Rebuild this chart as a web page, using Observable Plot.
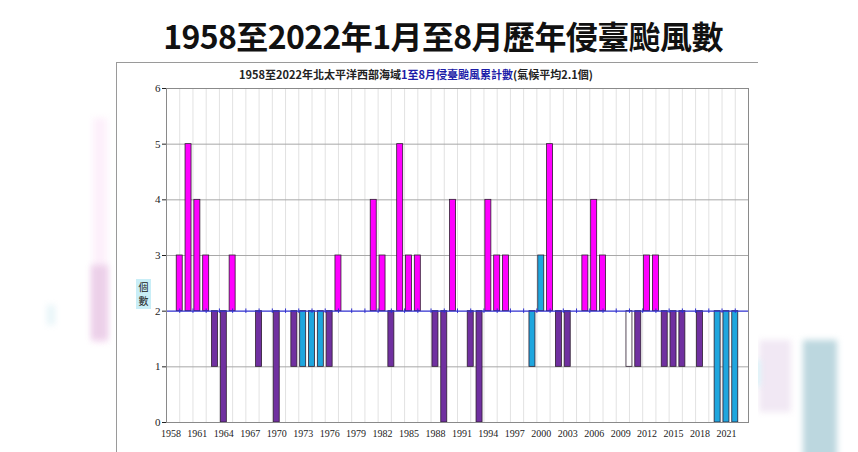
<!DOCTYPE html>
<html>
<head>
<meta charset="utf-8">
<script src="https://cdn.jsdelivr.net/npm/d3@7"></script>
<script src="https://cdn.jsdelivr.net/npm/@observablehq/plot@0.6"></script>
<style>
  html, body { margin: 0; padding: 0; background: #fff; }
  #wrap { position: relative; width: 858px; height: 452px; overflow: hidden; background: #fff; }
  .blob { position: absolute; filter: blur(3px); }
  #title { position: absolute; top: 12px; left: 443px; transform: translateX(-50%); white-space: nowrap;
           font-family: "Noto Sans CJK TC", sans-serif; font-weight: 700; font-size: 32px; color: #111; letter-spacing: -0.6px; }
  #frame { position: absolute; left: 116px; top: 62px; width: 641px; height: 400px; border-top: 1px solid #9a9a9a; border-left: 1px solid #9a9a9a; background: #fff; }
  #subtitle { position: absolute; top: 66px; left: 416px; transform: translateX(-50%); white-space: nowrap;
              font-family: "Noto Sans CJK TC", serif; font-weight: 700; font-size: 11px; color: #222; }
  #subtitle .b { color: #1c1ca8; }
  #ylab { position: absolute; left: 136px; top: 279px; width: 15px; height: 30px; background: #c9eef7; }
  #ylab span { position: absolute; left: 2px; width: 11px; font-family: "Noto Sans CJK TC", sans-serif; font-size: 10px; line-height: 11px; text-align: center; color: #222; }
  #plot { position: absolute; left: 0; top: 0; }
</style>
</head>
<body>
<div id="wrap">
  <div class="blob" style="left:93px;top:118px;width:14px;height:225px;background:#fdf0fb;"></div>
  <div class="blob" style="left:91px;top:265px;width:17px;height:75px;background:#ecd0e9;"></div>
  <div class="blob" style="left:47px;top:305px;width:8px;height:20px;background:#e6f4f8;"></div>
  <div class="blob" style="left:759px;top:340px;width:32px;height:72px;background:#f1e8f4;"></div>
  <div class="blob" style="left:803px;top:340px;width:34px;height:120px;background:#bcd7df;"></div>
  <div class="blob" style="left:752px;top:360px;width:8px;height:26px;background:#d6f1f8;"></div>
  <div id="title">1958至2022年1月至8月歷年侵臺颱風數</div>
  <div id="frame"></div>
  <div id="subtitle">1958至2022年北太平洋西部海域<span class="b">1至8月侵臺颱風累計數</span>(氣候平均2.1個)</div>
  <div id="ylab"><span style="top:2px">個</span><span style="top:16px">數</span></div>
  <div id="plot"></div>
</div>
<script>
// ---- data ----
const years = d3.range(1958, 2023);
const counts = [
  2, 3, 5, 4, 3, 1, 0, 3, 2, 2,   // 1958-1967
  1, 2, 0, 2, 1, 1, 1, 1, 1, 3,   // 1968-1977
  2, 2, 2, 4, 3, 1, 5, 3, 3, 2,   // 1978-1987
  1, 0, 4, 2, 1, 0, 4, 3, 3, 2,   // 1988-1997
  2, 1, 3, 5, 1, 1, 2, 3, 4, 3,   // 1998-2007
  2, 2, 1, 1, 3, 3, 1, 1, 1, 2,   // 2008-2017
  1, 2, 0, 0, 0                   // 2018-2022
];
const cyanYears = [1973, 1974, 1975, 1999, 2000, 2020, 2021, 2022];
const whiteYears = [2010];
const climateBase = 2;
const xTickYears = d3.range(1958, 2022, 3);
const yTicks = [0, 1, 2, 3, 4, 5, 6];

const data = years.map((y, i) => ({year: y, value: counts[i]}));
const colorOf = d => whiteYears.includes(d.year) ? "#ffffff"
  : cyanYears.includes(d.year) ? "#1fa6de"
  : d.value > climateBase ? "#ff00ff" : "#7030a0";

const vGrid = d3.range(1957.5, 2023.6, 1.5);

const chart = Plot.plot({
  width: 858,
  height: 452,
  marginLeft: 166,
  marginRight: 110,
  marginTop: 88,
  marginBottom: 30,
  style: {fontFamily: "Liberation Serif, serif", fontSize: "11px", color: "#222", background: "transparent", overflow: "visible"},
  x: {domain: [1957.5, 2023.5], label: null},
  y: {domain: [0, 6], label: null},
  marks: [
    Plot.ruleX(vGrid, {stroke: "#e2e2e2", strokeWidth: 1}),
    Plot.ruleY([1, 3, 4, 5], {stroke: "#a8a8a8", strokeWidth: 1}),
    Plot.rectY(data.filter(d => d.value !== climateBase), {
      x1: d => d.year - 0.34, x2: d => d.year + 0.34,
      y1: climateBase, y2: "value",
      fill: colorOf, stroke: "#2e1e30", strokeWidth: 0.8
    }),
    Plot.ruleY([climateBase], {stroke: "#3030d0", strokeWidth: 1.4}),
    Plot.ruleX(vGrid, {y1: climateBase - 0.04, y2: climateBase + 0.04, stroke: "#3030d0", strokeWidth: 1}),
    Plot.frame({stroke: "#8a8a8a"}),
    Plot.axisY({ticks: yTicks, tickFormat: d3.format("d"), tickSize: 4, tickPadding: 2, fontSize: 11, label: null}),
    Plot.axisX({ticks: xTickYears, tickFormat: d => String(d), tickSize: 0, tickPadding: 7, fontSize: 10, label: null})
  ]
});
document.getElementById("plot").appendChild(chart);
</script>
</body>
</html>
